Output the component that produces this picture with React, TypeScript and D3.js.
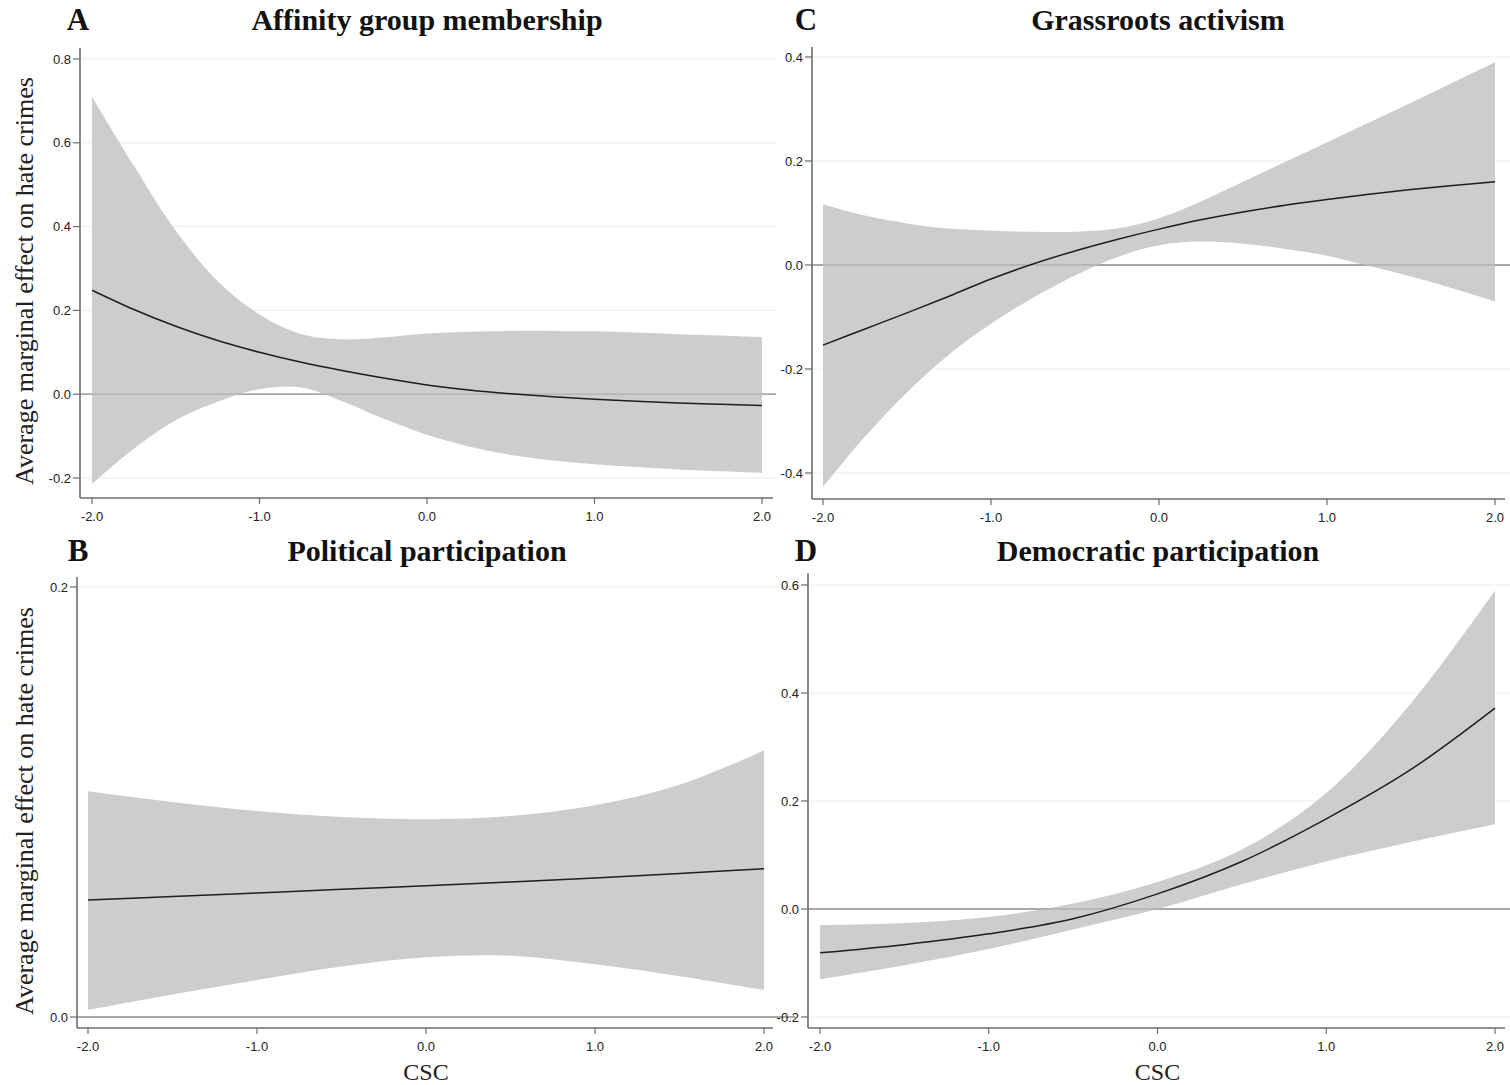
import React from "react";
import * as d3 from "d3";

// ---- data ----
const xFine = [-2, -1.75, -1.5, -1.25, -1, -0.75, -0.5, -0.25, 0, 0.25, 0.5, 0.75, 1, 1.25, 1.5, 1.75, 2];
const xCoarse = [-2, -1.5, -1, -0.5, 0, 0.5, 1, 1.5, 2];

const affinityEst = [0.248, 0.202, 0.162, 0.128, 0.1, 0.076, 0.056, 0.038, 0.022, 0.01, 0.001, -0.006, -0.012, -0.017, -0.021, -0.024, -0.027];
const affinityUpper = [0.71, 0.545, 0.39, 0.27, 0.19, 0.143, 0.131, 0.136, 0.145, 0.149, 0.151, 0.151, 0.15, 0.147, 0.143, 0.14, 0.136];
const affinityLower = [-0.214, -0.13, -0.062, -0.018, 0.012, 0.016, -0.018, -0.06, -0.097, -0.125, -0.145, -0.158, -0.167, -0.174, -0.18, -0.184, -0.188];

const grassEst = [-0.154, -0.123, -0.092, -0.06, -0.027, 0.002, 0.027, 0.049, 0.069, 0.087, 0.102, 0.115, 0.126, 0.136, 0.145, 0.153, 0.16];
const grassUpper = [0.117, 0.095, 0.08, 0.07, 0.066, 0.064, 0.064, 0.07, 0.09, 0.122, 0.16, 0.198, 0.236, 0.274, 0.312, 0.351, 0.39];
const grassLower = [-0.427, -0.33, -0.245, -0.172, -0.113, -0.063, -0.02, 0.015, 0.038, 0.045, 0.041, 0.031, 0.018, -0.002, -0.022, -0.045, -0.07];

const politicalEst = [0.0544, 0.056, 0.0577, 0.0594, 0.061, 0.0628, 0.0647, 0.0668, 0.069];
const politicalUpper = [0.105, 0.1, 0.0958, 0.093, 0.092, 0.0935, 0.0985, 0.108, 0.124];
const politicalLower = [0.0033, 0.0105, 0.0172, 0.0235, 0.0278, 0.0285, 0.0245, 0.019, 0.0126];

const democraticEst = [-0.081, -0.066, -0.046, -0.018, 0.028, 0.088, 0.167, 0.258, 0.372];
const democraticUpper = [-0.03, -0.026, -0.015, 0.01, 0.05, 0.11, 0.215, 0.38, 0.59];
const democraticLower = [-0.13, -0.104, -0.074, -0.038, 0.0, 0.046, 0.088, 0.124, 0.157];

const xTicks = [-2, -1, 0, 1, 2];
const affinityTicks = [-0.2, 0, 0.2, 0.4, 0.6, 0.8];
const grassTicks = [-0.4, -0.2, 0, 0.2, 0.4];
const politicalTicks = [0, 0.2];
const democraticTicks = [-0.2, 0, 0.2, 0.4, 0.6];

const panels = [
  { letter: "A", title: "Affinity group membership", xs: xFine, est: affinityEst, up: affinityUpper, lo: affinityLower, yTicks: affinityTicks },
  { letter: "C", title: "Grassroots activism", xs: xFine, est: grassEst, up: grassUpper, lo: grassLower, yTicks: grassTicks },
  { letter: "B", title: "Political participation", xs: xCoarse, est: politicalEst, up: politicalUpper, lo: politicalLower, yTicks: politicalTicks },
  { letter: "D", title: "Democratic participation", xs: xCoarse, est: democraticEst, up: democraticUpper, lo: democraticLower, yTicks: democraticTicks },
];

// layout per panel
const layouts = [
  { axisX: 80, axisTop: 48, axisY: 498, x0: 92, x1: 762, axisRight: 773, yTop: 59, yBot: 478, gridRight: 776, titleY: 30, titleX: 427, letterX: 78, yLabelMid: 281, showYLabel: true, showCSC: false },
  { axisX: 812, axisTop: 47, axisY: 499, x0: 823, x1: 1495, axisRight: 1505, yTop: 57, yBot: 473, gridRight: 1510, titleY: 30, titleX: 1158, letterX: 806, yLabelMid: 0, showYLabel: false, showCSC: false },
  { axisX: 77, axisTop: 577, axisY: 1028, x0: 88, x1: 764, axisRight: 773, yTop: 587, yBot: 1017, gridRight: 795, titleY: 561, titleX: 427, letterX: 78, yLabelMid: 811, showYLabel: true, showCSC: true },
  { axisX: 808, axisTop: 573, axisY: 1028, x0: 820, x1: 1495, axisRight: 1505, yTop: 585, yBot: 1017, gridRight: 1510, titleY: 561, titleX: 1158, letterX: 806, yLabelMid: 0, showYLabel: false, showCSC: true },
];

const serif = "'Liberation Serif', 'Times New Roman', serif";
const sans = "'Liberation Sans', Arial, Helvetica, sans-serif";

function fmt(t: number) {
  return t.toFixed(1);
}

function Panel({ p, l }: { p: any; l: any }) {
  const x = d3.scaleLinear().domain([-2, 2]).range([l.x0, l.x1]);
  const yDom = d3.extent(p.yTicks) as [number, number];
  const y = d3.scaleLinear().domain(yDom).range([l.yBot, l.yTop]);
  const pts = p.xs.map((xv: number, i: number) => ({ x: xv, e: p.est[i], u: p.up[i], lo: p.lo[i] }));
  const curve = d3.curveCatmullRom.alpha(0.5);
  const area = d3
    .area<any>()
    .x((d) => x(d.x))
    .y0((d) => y(d.lo))
    .y1((d) => y(d.u))
    .curve(curve);
  const line = d3
    .line<any>()
    .x((d) => x(d.x))
    .y((d) => y(d.e))
    .curve(curve);
  return (
    <g>
      {p.yTicks.map((t: number) => (
        <line key={"g" + t} x1={l.axisX} x2={l.gridRight} y1={y(t)} y2={y(t)} stroke={t === 0 ? "#9a9a9a" : "#ececec"} strokeWidth={t === 0 ? 1.3 : 1} />
      ))}
      <path d={area(pts) || ""} fill="#cdcdcd" stroke="none" />
      <line x1={l.axisX} x2={l.gridRight} y1={y(0)} y2={y(0)} stroke="#9a9a9a" strokeOpacity={0.55} strokeWidth={1.3} />
      <path d={line(pts) || ""} fill="none" stroke="#1e1e1e" strokeWidth={1.5} />
      <line x1={l.axisX} x2={l.axisX} y1={l.axisTop} y2={l.axisY} stroke="#6e6e6e" strokeWidth={1.6} />
      <line x1={l.axisX} x2={l.axisRight} y1={l.axisY} y2={l.axisY} stroke="#6e6e6e" strokeWidth={1.6} />
      {p.yTicks.map((t: number) => (
        <g key={"yt" + t}>
          <line x1={l.axisX - 7} x2={l.axisX} y1={y(t)} y2={y(t)} stroke="#6e6e6e" strokeWidth={1.2} />
          <text x={l.axisX - 9} y={y(t)} dy="0.35em" textAnchor="end" fontFamily={sans} fontSize={13} fill="#222">
            {fmt(t)}
          </text>
        </g>
      ))}
      {xTicks.map((t) => (
        <g key={"xt" + t}>
          <line x1={x(t)} x2={x(t)} y1={l.axisY} y2={l.axisY + 6} stroke="#6e6e6e" strokeWidth={1.2} />
          <text x={x(t)} y={l.axisY + 23} textAnchor="middle" fontFamily={sans} fontSize={13} fill="#222">
            {fmt(t)}
          </text>
        </g>
      ))}
      <text x={l.letterX} y={l.titleY} textAnchor="middle" fontFamily={serif} fontWeight="bold" fontSize={31} fill="#111">
        {p.letter}
      </text>
      <text x={l.titleX} y={l.titleY} textAnchor="middle" fontFamily={serif} fontWeight="bold" fontSize={30} fill="#111">
        {p.title}
      </text>
      {l.showYLabel && (
        <text transform={`translate(33,${l.yLabelMid}) rotate(-90)`} textAnchor="middle" fontFamily={serif} fontSize={26} fill="#222">
          Average marginal effect on hate crimes
        </text>
      )}
      {l.showCSC && (
        <text x={x(0)} y={1080} textAnchor="middle" fontFamily={serif} fontSize={24} fill="#222">
          CSC
        </text>
      )}
    </g>
  );
}

export default function App() {
  return (
    <svg width={1510} height={1085} style={{ position: "absolute", left: 0, top: 0, background: "#fff" }}>
      <rect width={1510} height={1085} fill="#fff" />
      {panels.map((p, i) => (
        <Panel key={p.letter} p={p} l={layouts[i]} />
      ))}
    </svg>
  );
}
